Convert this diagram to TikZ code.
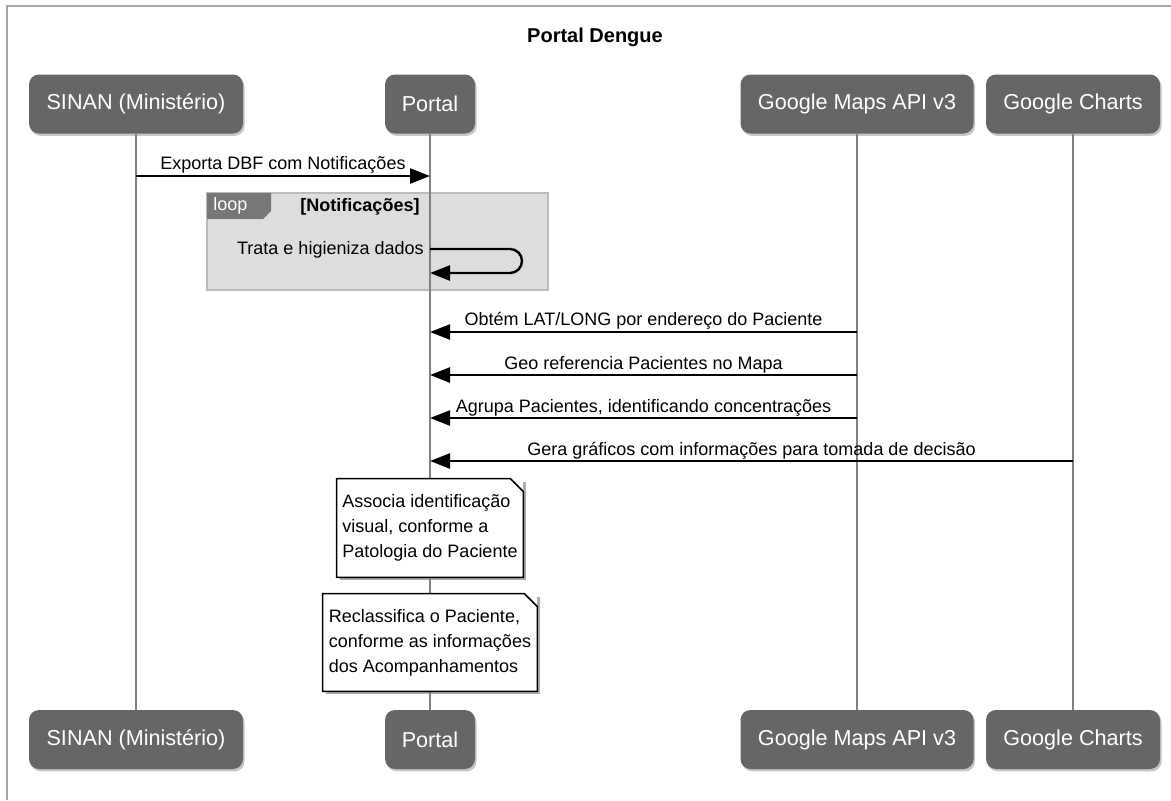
\documentclass[tikz,border=0pt]{standalone}
\usepackage{fontspec}
\setmainfont{Liberation Sans}
\usetikzlibrary{arrows.meta,shadows,calc}

\definecolor{actorgray}{HTML}{666666}
\definecolor{loopfill}{HTML}{DDDDDD}
\definecolor{loopline}{HTML}{BBBBBB}
\definecolor{tabgray}{HTML}{777777}

\tikzset{
	actor/.style = {fill=actorgray, rounded corners=5pt, text=white, inner sep=0pt,
		minimum height=29.5pt, font=\fontsize{10.8}{13}\selectfont,
		drop shadow={opacity=0.45, shadow xshift=0.8pt, shadow yshift=-1.2pt}},
	lifeline/.style = {draw=gray, line width=0.8pt},
	msg/.style = {line width=1.2pt, -{Triangle[length=10pt,width=7.5pt]}},
	msglabel/.style = {font=\fontsize{9}{11}\selectfont, inner sep=0.5pt},
	notebox/.style = {fill=white, inner sep=0pt, align=left,
		font=\fontsize{9}{12.5}\selectfont,
		drop shadow={opacity=0.65, shadow xshift=1.6pt, shadow yshift=-1.6pt}},
	noteline/.style = {line width=0.8pt}
}

\begin{document}
\begin{tikzpicture}[x=0.5pt, y=-0.5pt]
	\useasboundingbox (0,0) rectangle (1171,800);
	\draw[gray!70, line width=0.8pt] (7,800) -- (7,6) -- (1171,6);
	\node[font=\bfseries\fontsize{10}{12}\selectfont] (title) at (595,37) {Portal Dengue};

	% loop frame
	\draw[draw=loopline, fill=loopfill, line width=0.8pt] (207,193) rectangle (548,290);
	\fill[tabgray] (207,193) -- (271,193) -- (271,211) -- (263,219) -- (207,219) -- cycle;
	\node[anchor=west, text=white, msglabel] (looptag) at (212,206) {loop};
	\node[msglabel, font=\bfseries\fontsize{9}{11}\selectfont] (loopcond) at (360,207) {[Notificações]};

	% actors
	\node[actor, minimum width=107pt] (sinanT) at (136,104) {SINAN (Ministério)};
	\node[actor, minimum width=45pt] (portalT) at (430,104) {Portal};
	\node[actor, minimum width=116.5pt] (mapsT) at (857,104) {Google Maps API v3};
	\node[actor, minimum width=87pt] (chartsT) at (1073,104) {Google Charts};
	\node[actor, minimum width=107pt] (sinanB) at (136,739.5) {SINAN (Ministério)};
	\node[actor, minimum width=45pt] (portalB) at (430,739.5) {Portal};
	\node[actor, minimum width=116.5pt] (mapsB) at (857,739.5) {Google Maps API v3};
	\node[actor, minimum width=87pt] (chartsB) at (1073,739.5) {Google Charts};

	% lifelines
	\draw[lifeline] (sinanT) -- (sinanB);
	\draw[lifeline] (portalT) -- (portalB);
	\draw[lifeline] (mapsT) -- (mapsB);
	\draw[lifeline] (chartsT) -- (chartsB);

	% messages
	\coordinate (exp-a) at (136,176);
	\coordinate (exp-b) at (430,176);
	\draw[msg] (exp-a) -- node[above, msglabel] (exp-l) {Exporta DBF com Notificações} (exp-b);

	\coordinate (trt-a) at (430,249);
	\coordinate (trt-b) at (430,273);
	\draw[msg, rounded corners=6pt] (trt-a) -- ++(92,0) -- ++(0,24) -- (trt-b);
	\node[anchor=east, msglabel] (trt-l) at (425,250) {Trata e higieniza dados};

	\coordinate (obt-a) at (857,332);
	\coordinate (obt-b) at (430,332);
	\draw[msg] (obt-a) -- node[above, msglabel] (obt-l) {Obtém LAT/LONG por endereço do Paciente} (obt-b);

	\coordinate (geo-a) at (857,375);
	\coordinate (geo-b) at (430,375);
	\draw[msg] (geo-a) -- node[above, msglabel] (geo-l) {Geo referencia Pacientes no Mapa} (geo-b);

	\coordinate (agr-a) at (857,418);
	\coordinate (agr-b) at (430,418);
	\draw[msg] (agr-a) -- node[above, msglabel] (agr-l) {Agrupa Pacientes, identificando concentrações} (agr-b);

	\coordinate (ger-a) at (1073,461);
	\coordinate (ger-b) at (430,461);
	\draw[msg] (ger-a) -- node[above, msglabel] (ger-l) {Gera gráficos com informações para tomada de decisão} (ger-b);

	% notes
	\node[notebox, minimum width=93pt, minimum height=49pt] (note1) at (430,528)
		{Associa identificação\\visual, conforme a\\Patologia do Paciente};
	\draw[noteline] (note1.north west) -- ($(note1.north east)+(-13,0)$) -- ($(note1.north east)+(0,13)$)
		-- (note1.south east) -- (note1.south west) -- cycle;
	\node[notebox, minimum width=107pt, minimum height=48.5pt] (note2) at (430,642.5)
		{Reclassifica o Paciente,\\conforme as informações\\dos Acompanhamentos};
	\draw[noteline] (note2.north west) -- ($(note2.north east)+(-13,0)$) -- ($(note2.north east)+(0,13)$)
		-- (note2.south east) -- (note2.south west) -- cycle;
\end{tikzpicture}
\end{document}
